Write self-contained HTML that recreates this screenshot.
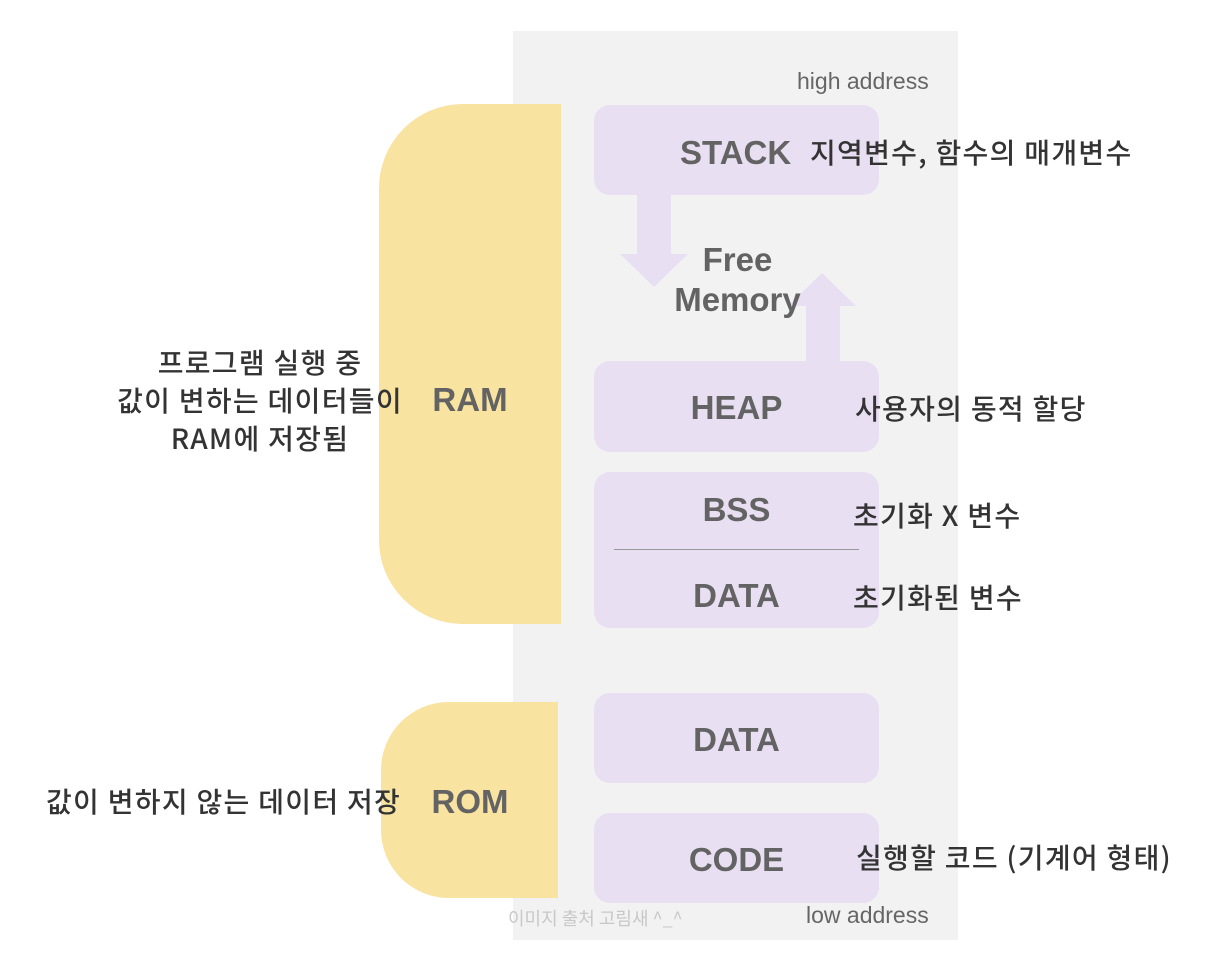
<!DOCTYPE html>
<html><head><meta charset="utf-8"><style>
body{margin:0;width:1216px;height:978px;background:#fff;position:relative;overflow:hidden;font-family:"Liberation Sans","Noto Sans CJK KR",sans-serif}
div{position:absolute;box-sizing:border-box}
.p{background:#e9dff2;border-radius:16px}
.t{color:#636363;font-weight:bold;font-size:33px;text-align:center;white-space:nowrap;line-height:36px}
.k{color:#333;font-size:28px;letter-spacing:1.3px;white-space:nowrap;font-family:"Noto Sans CJK KR","Liberation Sans",sans-serif;font-weight:500;line-height:36px}
</style></head><body>
<div style="left:513px;top:31px;width:445px;height:909px;background:#f2f2f2"></div>
<div style="left:379px;top:104px;width:182px;height:520px;background:#f9e3a1;border-radius:84px 0 0 84px"></div>
<div style="left:381px;top:702px;width:177px;height:196px;background:#f9e3a1;border-radius:68px 0 0 68px"></div>
<div class="p" style="left:594px;top:105px;width:285px;height:90px"></div>
<div class="p" style="left:594px;top:361px;width:285px;height:91px"></div>
<div class="p" style="left:594px;top:472px;width:285px;height:156px"></div>
<div class="p" style="left:594px;top:693px;width:285px;height:90px"></div>
<div class="p" style="left:594px;top:813px;width:285px;height:90px"></div>
<div style="left:614px;top:549px;width:245px;height:1px;background:#999"></div>
<svg style="position:absolute;left:0;top:0" width="1216" height="978">
<polygon fill="#e9dff2" points="637,195 671,195 671,254 688,254 654,287 620,254 637,254"/>
<polygon fill="#e9dff2" points="806,361 840,361 840,306 856,306 822,273 788,306 806,306"/>
</svg>
<div style="left:797px;top:68px;color:#666;font-size:23px">high address</div>
<div style="left:806px;top:902px;color:#666;font-size:23px">low address</div>
<div style="left:508px;top:905px;color:#c8c8c8;font-size:18px;font-family:'Noto Sans CJK KR',sans-serif">이미지 출처 고림새 ^_^</div>
<div class="t" style="left:680px;top:135px">STACK</div>
<div class="t" style="left:650px;top:240px;width:175px;line-height:40px">Free<br>Memory</div>
<div class="t" style="left:594px;top:390px;width:285px">HEAP</div>
<div class="t" style="left:594px;top:492px;width:285px">BSS</div>
<div class="t" style="left:594px;top:578px;width:285px">DATA</div>
<div class="t" style="left:594px;top:722px;width:285px">DATA</div>
<div class="t" style="left:594px;top:842px;width:285px">CODE</div>
<div class="t" style="left:380px;top:382px;width:180px">RAM</div>
<div class="t" style="left:380px;top:784px;width:180px">ROM</div>
<div class="k" style="left:810px;top:134px">지역변수, 함수의 매개변수</div>
<div class="k" style="left:855px;top:390px">사용자의 동적 할당</div>
<div class="k" style="left:853px;top:497px">초기화 X 변수</div>
<div class="k" style="left:853px;top:579px">초기화된 변수</div>
<div class="k" style="left:856px;top:839px">실행할 코드 (기계어 형태)</div>
<div class="k" style="left:60px;top:343px;width:400px;text-align:center;line-height:38px">프로그램 실행 중<br>값이 변하는 데이터들이<br>RAM에 저장됨</div>
<div class="k" style="left:46px;top:783px">값이 변하지 않는 데이터 저장</div>
</body></html>
